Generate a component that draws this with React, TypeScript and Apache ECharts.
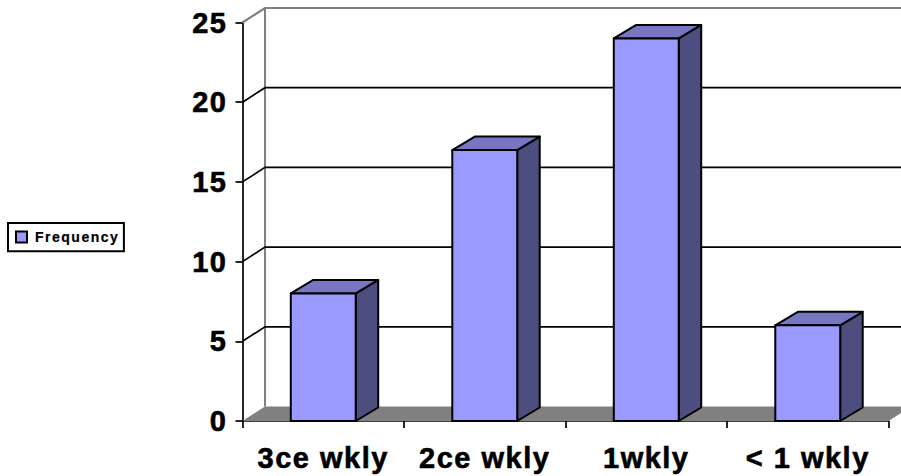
import React, { useEffect, useRef } from "react";
import * as echarts from "echarts";

const categories = ["3ce wkly", "2ce wkly", "1wkly", "< 1 wkly"];
const frequency = [8, 17, 24, 6];
const wallTicks = [0, 5, 10, 15, 20, 25];
const legendName = "Frequency";

const DEPTH_X = 22.5;
const DEPTH_Y = -14.5;
const BAR_DX = 22.5;
const BAR_DY = -13.5;
const LABEL_FONT = "'Liberation Sans', Arial, sans-serif";

function renderWall(params: any, api: any) {
  const v = api.value(0);
  const [, y] = api.coord([0, v]);
  const x0 = params.coordSys.x;
  const xRight = x0 + params.coordSys.width;
  const bx = x0 + DEPTH_X;
  const by = y + DEPTH_Y;
  const top = v === 25;
  const children: any[] = [];
  if (v === 0) {
    children.push({
      type: "polygon",
      shape: { points: [[x0, y], [bx, by], [xRight + DEPTH_X, by], [xRight, y]] },
      style: { fill: "#808080", stroke: "none" },
    });
    const [, yTop] = api.coord([0, 25]);
    children.push({
      type: "line",
      shape: { x1: bx, y1: yTop + DEPTH_Y, x2: bx, y2: by },
      style: { stroke: "#808080", lineWidth: 2 },
    });
    return { type: "group", children };
  }
  children.push({
    type: "polyline",
    shape: { points: [[x0, y], [bx, by], [xRight + DEPTH_X, by]] },
    style: { fill: "none", stroke: top ? "#808080" : "#000000", lineWidth: top ? 2.2 : 1.7 },
  });
  return { type: "group", children };
}

function renderBar(_params: any, api: any) {
  const i = api.value(0);
  const v = api.value(1);
  const [cx, yTop] = api.coord([i, v]);
  const [, yBase] = api.coord([i, 0]);
  const w = api.size([1, 0])[0] * 0.402;
  const l = cx - w / 2;
  const r = cx + w / 2;
  const edge = { stroke: "#000000", lineWidth: 2, lineJoin: "round" };
  return {
    type: "group",
    children: [
      {
        type: "polygon",
        shape: { points: [[r, yTop], [r + BAR_DX, yTop + BAR_DY], [r + BAR_DX, yBase + BAR_DY], [r, yBase]] },
        style: { fill: "#4D4D80", ...edge },
      },
      {
        type: "polygon",
        shape: { points: [[l, yTop], [l + BAR_DX, yTop + BAR_DY], [r + BAR_DX, yTop + BAR_DY], [r, yTop]] },
        style: { fill: "#7676C2", ...edge },
      },
      {
        type: "rect",
        shape: { x: l, y: yTop, width: w, height: yBase - yTop },
        style: { fill: "#9999FF", ...edge },
      },
    ],
  };
}

const axisText = {
  fontFamily: LABEL_FONT,
  fontWeight: "bold",
  fontSize: 29,
  color: "#000000",
  textBorderColor: "#000000",
  textBorderWidth: 0.6,
};

export default function App() {
  const ref = useRef<HTMLDivElement>(null);
  useEffect(() => {
    const chart = echarts.init(ref.current!, undefined, { renderer: "svg" });
    chart.setOption({
      animation: false,
      backgroundColor: "#ffffff",
      grid: { left: 242.5, top: 22.5, width: 646, height: 398.5, containLabel: false },
      legend: {
        data: [legendName],
        left: 8,
        top: 223,
        orient: "vertical",
        backgroundColor: "#ffffff",
        borderColor: "#000000",
        borderWidth: 2,
        borderRadius: 0,
        padding: [7, 18, 7, 7],
        itemWidth: 11,
        itemHeight: 11,
        itemGap: 0,
        icon: "rect",
        selectedMode: false,
        textStyle: {
          fontFamily: LABEL_FONT,
          fontWeight: "bold",
          fontSize: 14,
          color: "#000000",
          padding: [0, 0, 0, 3],
          textBorderColor: "#000000",
          textBorderWidth: 0.2,
        },
      },
      xAxis: {
        type: "category",
        data: categories,
        boundaryGap: true,
        axisLine: { show: true, lineStyle: { color: "#000000", width: 1.7 } },
        axisTick: { show: true, alignWithLabel: false, length: 7, lineStyle: { color: "#000000", width: 1.7 } },
        axisLabel: { margin: 22, interval: 0, ...axisText },
        splitLine: { show: false },
      },
      yAxis: {
        type: "value",
        min: 0,
        max: 25,
        interval: 5,
        axisLine: { show: true, lineStyle: { color: "#000000", width: 1.7 } },
        axisTick: { show: true, length: 7, lineStyle: { color: "#000000", width: 1.7 } },
        axisLabel: { margin: 15, ...axisText },
        splitLine: { show: false },
      },
      series: [
        {
          type: "custom",
          name: "wall",
          z: 1,
          silent: true,
          clip: false,
          encode: { y: 0 },
          data: wallTicks.map((v) => [v]),
          renderItem: renderWall,
        },
        {
          type: "custom",
          name: legendName,
          z: 5,
          clip: false,
          itemStyle: { color: "#9999FF", borderColor: "#000000", borderWidth: 1.5 },
          encode: { x: 0, y: 1 },
          data: frequency.map((v, i) => [i, v]),
          renderItem: renderBar,
        },
      ],
    });
    return () => chart.dispose();
  }, []);
  return (
    <div
      ref={ref}
      style={{ position: "absolute", left: 0, top: 0, width: 901, height: 476, overflow: "hidden", letterSpacing: "1.5px" }}
    />
  );
}
